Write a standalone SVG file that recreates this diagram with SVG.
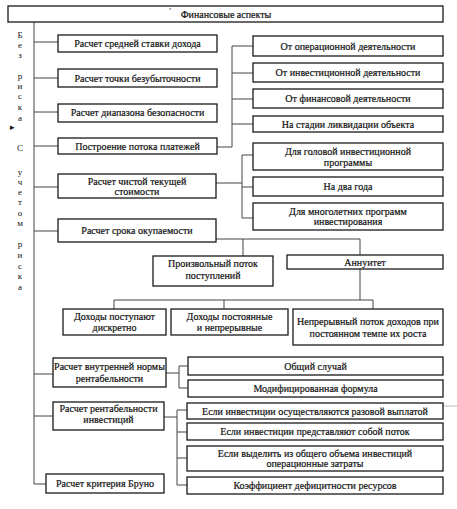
<svg xmlns="http://www.w3.org/2000/svg" width="457" height="509" viewBox="0 0 457 509">
<style>
.b{fill:#fff;stroke:#1a1a1a;stroke-width:1.3}
.t{font-family:"Liberation Serif","Times New Roman",serif;font-size:10px;fill:#111;text-anchor:middle;stroke:#111;stroke-width:0.2}
.l{font-family:"Liberation Serif","Times New Roman",serif;font-size:9px;fill:#111;text-anchor:middle}
.c{fill:none;stroke:#444;stroke-width:1}
</style>
<rect width="457" height="509" fill="#fff"/>
<g id="connectors">
<path class="c" d="M34 22V484M34 42H58M34 78H58M34 112H58M34 146H58M34 187H58M34 231H58M34 374H53M34 416H53M34 484H46"/>
<path class="c" d="M217 147H232M232 46V147M232 46H253M232 73H253M232 99H253M232 124H253"/>
<path class="c" d="M216 183H242M242 155V218M242 155H253M242 187H253M242 218H253"/>
<path class="c" d="M216 239H360M243 239V256M360 239V255M360 269V300M114 300H373M114 300V309M224 300V309M373 300V309"/>
<path class="c" d="M166 373H179M179 366V388M179 366H188M179 388H188"/>
<path class="c" d="M164 417H177M177 410V485M177 410H187M177 432H187M177 458H187M177 485H187"/>
<path d="M443 406H457" stroke="#bbb" stroke-width="1"/>
</g>
<g id="title"><rect class="b" x="8" y="6" width="435" height="16"/><text class="l" x="170" y="14" font-size="8">'</text><text class="t" x="226" y="17.5">Финансовые аспекты</text></g>
<g id="side">
<text class="l" x="20" y="38">Б</text><text class="l" x="20" y="48">е</text><text class="l" x="20" y="58">з</text>
<text class="l" x="20" y="79">р</text><text class="l" x="20" y="89">и</text><text class="l" x="20" y="99">с</text><text class="l" x="20" y="110">к</text><text class="l" x="20" y="121">а</text>
<text class="l" x="12" y="130" font-size="6">▸</text>
<text class="l" x="20" y="151">С</text>
<text class="l" x="20" y="175">у</text><text class="l" x="20" y="185">ч</text><text class="l" x="20" y="195">е</text><text class="l" x="20" y="205">т</text><text class="l" x="20" y="216">о</text><text class="l" x="20" y="226">м</text>
<text class="l" x="20" y="247">р</text><text class="l" x="20" y="258">и</text><text class="l" x="20" y="269">с</text><text class="l" x="20" y="279">к</text><text class="l" x="20" y="290">а</text>
</g>
<g id="a1"><rect class="b" x="58" y="35" width="159" height="17"/><text class="t" x="137.5" y="47">Расчет средней ставки дохода</text></g>
<g id="a2"><rect class="b" x="58" y="69" width="159" height="18"/><text class="t" x="137.5" y="81.5">Расчет точки безубыточности</text></g>
<g id="a3"><rect class="b" x="58" y="104" width="159" height="18"/><text class="t" x="137.5" y="116">Расчет диапазона безопасности</text></g>
<g id="a4"><rect class="b" x="58" y="138" width="159" height="16"/><text class="t" x="137.5" y="149.5">Построение потока платежей</text></g>
<g id="a5"><rect class="b" x="58" y="174" width="158" height="24"/><text class="t" x="137" y="184.5">Расчет чистой текущей</text><text class="t" x="137" y="194.5">стоимости</text></g>
<g id="a6"><rect class="b" x="58" y="219" width="158" height="23"/><text class="t" x="137" y="234">Расчет срока окупаемости</text></g>
<g id="b1"><rect class="b" x="253" y="36" width="190" height="20"/><text class="t" x="348" y="49.5">От операционной деятельности</text></g>
<g id="b2"><rect class="b" x="253" y="63" width="190" height="19"/><text class="t" x="348" y="76">От инвестиционной деятельности</text></g>
<g id="b3"><rect class="b" x="253" y="89" width="190" height="19"/><text class="t" x="348" y="102">От финансовой деятельности</text></g>
<g id="b4"><rect class="b" x="253" y="116" width="190" height="16"/><text class="t" x="348" y="127.5">На стадии ликвидации объекта</text></g>
<g id="b5"><rect class="b" x="253" y="143" width="190" height="27"/><text class="t" x="348" y="155">Для головой инвестиционной</text><text class="t" x="348" y="165.5">программы</text></g>
<g id="b6"><rect class="b" x="253" y="177" width="190" height="19"/><text class="t" x="348" y="190">На два года</text></g>
<g id="b7"><rect class="b" x="253" y="203" width="190" height="27"/><text class="t" x="348" y="215">Для многолетних программ</text><text class="t" x="348" y="225">инвестирования</text></g>
<g id="c1"><rect class="b" x="153" y="256" width="120" height="30"/><text class="t" x="213" y="267">Произвольный поток</text><text class="t" x="213" y="278.5">поступлений</text></g>
<g id="c2"><rect class="b" x="287" y="255" width="156" height="14"/><text class="t" x="365" y="265.5">Аннуитет</text></g>
<g id="d1"><rect class="b" x="63" y="309" width="103" height="26"/><text class="t" x="114.5" y="319.5">Доходы поступают</text><text class="t" x="114.5" y="330.5">дискретно</text></g>
<g id="d2"><rect class="b" x="171" y="309" width="117" height="26"/><text class="t" x="229.5" y="319.5">Доходы постоянные</text><text class="t" x="229.5" y="330.5">и непрерывные</text></g>
<g id="d3"><rect class="b" x="293" y="309" width="150" height="36"/><text class="t" x="368" y="324.5">Непрерывный поток доходов при</text><text class="t" x="368" y="336.5">постоянном темпе их роста</text></g>
<g id="e1"><rect class="b" x="53" y="358" width="113" height="29"/><text class="t" x="109.5" y="370">Расчет внутренней нормы</text><text class="t" x="109.5" y="381.5">рентабельности</text></g>
<g id="f1"><rect class="b" x="188" y="357" width="255" height="18"/><text class="t" x="315.5" y="369.5">Общий случай</text></g>
<g id="f2"><rect class="b" x="188" y="380" width="255" height="17"/><text class="t" x="315.5" y="392">Модифицированная формула</text></g>
<g id="e2"><rect class="b" x="53" y="402" width="111" height="28"/><text class="t" x="108.5" y="411.5">Расчет рентабельности</text><text class="t" x="108.5" y="422.5">инвестиций</text></g>
<g id="g1"><rect class="b" x="187" y="403" width="256" height="16"/><text class="t" x="315" y="414.5">Если инвестиции осуществляются разовой выплатой</text></g>
<g id="g2"><rect class="b" x="187" y="423" width="256" height="17"/><text class="t" x="315" y="435">Если инвестиции представляют собой поток</text></g>
<g id="g3"><rect class="b" x="187" y="446" width="256" height="25"/><text class="t" x="315" y="456.5">Если выделить из общего объема инвестиций</text><text class="t" x="315" y="466.5">операционные затраты</text></g>
<g id="g4"><rect class="b" x="187" y="477" width="256" height="17"/><text class="t" x="315" y="489">Коэффициент дефицитности ресурсов</text></g>
<g id="e3"><rect class="b" x="46" y="474" width="118" height="19"/><text class="t" x="105" y="487">Расчет критерия Бруно</text></g>
</svg>
